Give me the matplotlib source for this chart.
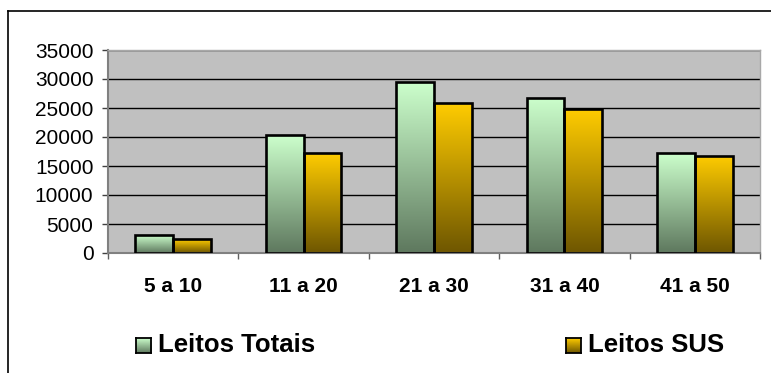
import numpy as np
import matplotlib
matplotlib.use("Agg")
import matplotlib.pyplot as plt
from matplotlib.lines import Line2D
from matplotlib.colors import to_rgb

categories = ["5 a 10", "11 a 20", "21 a 30", "31 a 40", "41 a 50"]
leitos_totais = [3100, 20300, 29400, 26800, 17200]
leitos_sus = [2400, 17200, 25800, 24800, 16800]
series_names = ["Leitos Totais", "Leitos SUS"]
y_ticks = [0, 5000, 10000, 15000, 20000, 25000, 30000, 35000]

plt.rcParams["font.family"] = ["Liberation Sans", "DejaVu Sans"]

W, H = 771, 373
fig = plt.figure(figsize=(W / 100, H / 100), dpi=100)


def px_box(x0, y0, x1, y1):
    """Figure-fraction rectangle from pixel coords (origin top-left)."""
    return [x0 / W, (H - y1) / H, (x1 - x0) / W, (y1 - y0) / H]


def gradient(top, bottom, n=256):
    t = np.linspace(0, 1, n)[:, None]
    img = np.array(to_rgb(top)) * (1 - t) + np.array(to_rgb(bottom)) * t
    return img[:, None, :]


green_grad = gradient("#CCFFCC", "#5E785E")
gold_grad = gradient("#FFCC00", "#6E5600")

ax = fig.add_axes(px_box(108, 50, 760, 253))
ax.set_facecolor("#C0C0C0")
ax.set_axisbelow(True)

x = np.arange(len(categories)) + 0.5
w = 0.29

for offset, values, grad in ((-w / 2, leitos_totais, green_grad),
                             (w / 2, leitos_sus, gold_grad)):
    bars = ax.bar(x + offset, values, width=w, facecolor="none",
                  edgecolor="black", linewidth=1.9, zorder=3)
    for bar, v in zip(bars, values):
        x0 = bar.get_x()
        im = ax.imshow(grad, extent=(x0, x0 + w, 0, v), origin="upper",
                       aspect="auto", interpolation="bilinear", zorder=2.5)
        im.set_clip_path(bar)

ax.set_xlim(0, len(categories))
ax.set_ylim(0, 35000)

ax.set_yticks(y_ticks)
ax.set_yticklabels([str(v) for v in y_ticks])
ax.tick_params(axis="y", direction="out", length=4.5, width=1,
               color="#404040", labelsize=15, pad=6)
ax.yaxis.grid(True, color="black", linewidth=1.0)

ax.set_xticks(x)
ax.set_xticklabels(categories, fontsize=15, fontweight="bold")
ax.tick_params(axis="x", which="major", length=0, pad=17)
ax.set_xticks(np.arange(len(categories) + 1), minor=True)
ax.tick_params(axis="x", which="minor", direction="out", length=4.5,
               width=1, color="#606060")

for side in ("left", "bottom"):
    ax.spines[side].set_color("#808080")
    ax.spines[side].set_linewidth(1.5)
for side in ("top", "right"):
    ax.spines[side].set_color("#A8A8A8")
    ax.spines[side].set_linewidth(1.0)

# legend keys and labels along the bottom
for (kx, tx), name, grad in (((136, 158), series_names[0], green_grad),
                             ((566, 588), series_names[1], gold_grad)):
    kax = fig.add_axes(px_box(kx, 338, kx + 15, 353))
    kax.imshow(grad, aspect="auto", extent=(0, 1, 0, 1), origin="upper")
    kax.set_xticks([])
    kax.set_yticks([])
    for s in kax.spines.values():
        s.set_linewidth(1.3)
        s.set_color("black")
    fig.text(tx / W, 1 - 352 / H, name, fontsize=18.5, fontweight="bold",
             va="baseline", ha="left")

# outer chart frame
fig.add_artist(Line2D([7.5 / W, 7.5 / W], [0, 1 - 11 / H], color="black",
                      linewidth=1.2, transform=fig.transFigure))
fig.add_artist(Line2D([7.5 / W, 1], [1 - 11 / H, 1 - 11 / H], color="black",
                      linewidth=1.2, transform=fig.transFigure))

fig.savefig("out.png", dpi=100)
